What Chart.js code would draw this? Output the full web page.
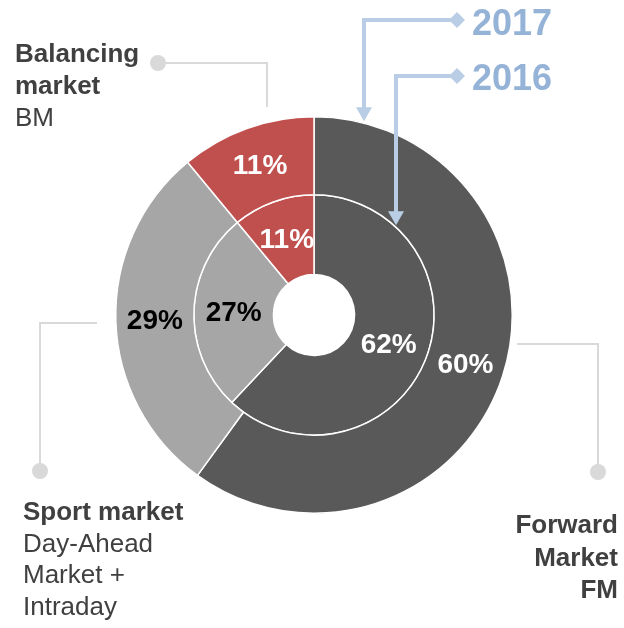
<!DOCTYPE html>
<html>
<head>
<meta charset="utf-8">
<script src="https://cdn.jsdelivr.net/npm/chart.js@4.4.1/dist/chart.umd.min.js"></script>
<style>
  body { margin: 0; background: #fff; }
  #wrap { position: relative; width: 624px; height: 628px; font-family: "Liberation Sans", Arial, sans-serif; color: #404040; }
  .note { position: absolute; font-size: 26px; line-height: 32px; white-space: nowrap; }
  .year { position: absolute; left: 472px; font-size: 36px; line-height: 36px; font-weight: bold; color: #95b3d7; }
</style>
</head>
<body>
<div id="wrap">
  <canvas id="marketChart"></canvas>
  <div class="note" style="left:15px; top:37px;"><b>Balancing<br>market</b><br>BM</div>
  <div class="note" style="left:23px; top:496px; line-height:31.5px;"><b>Sport market</b><br>Day-Ahead<br>Market +<br>Intraday</div>
  <div class="note" style="right:6px; top:508px; line-height:32.5px; text-align:right; font-weight:bold;">Forward<br>Market<br>FM</div>
  <div class="year" style="top:5px;">2017</div>
  <div class="year" style="top:60px;">2016</div>
</div>
<script>
const categories = ['Forward Market FM', 'Sport market', 'Balancing market BM'];
const share2017 = [60, 29, 11];
const share2016 = [62, 27, 11];
const sliceColors = ['#595959', '#a6a6a6', '#c0504d'];
const labelColors = ['#ffffff', '#000000', '#ffffff'];

// percentage text in the middle of every slice
const ringLabels = {
  id: 'ringLabels',
  afterDatasetsDraw(chart) {
    const ctx = chart.ctx;
    ctx.save();
    ctx.font = 'bold 28px "Liberation Sans", Arial, sans-serif';
    ctx.textAlign = 'center';
    ctx.textBaseline = 'middle';
    chart.data.datasets.forEach((ds, i) => {
      chart.getDatasetMeta(i).data.forEach((arc, j) => {
        const p = arc.getCenterPoint();
        ctx.fillStyle = labelColors[j];
        ctx.fillText(ds.data[j] + '%', p.x, p.y + 1);
      });
    });
    ctx.restore();
  }
};

// grey leader lines to the category notes, blue arrows to the year rings
const callouts = {
  id: 'callouts',
  afterDraw(chart) {
    const ctx = chart.ctx;
    const outer = chart.getDatasetMeta(0).data[0];
    const inner = chart.getDatasetMeta(1).data[0];
    const cx = outer.x, cy = outer.y;
    ctx.save();
    ctx.lineJoin = 'miter';
    ctx.strokeStyle = '#d9d9d9';
    ctx.fillStyle = '#d9d9d9';
    ctx.lineWidth = 2;
    const leaders = [
      [[158, 63], [267, 63], [267, 107]],
      [[40, 471], [40, 323], [97, 323]],
      [[598, 472], [598, 344], [517, 344]]
    ];
    leaders.forEach(pts => {
      ctx.beginPath();
      pts.forEach(([x, y], k) => k ? ctx.lineTo(x, y) : ctx.moveTo(x, y));
      ctx.stroke();
      ctx.beginPath();
      ctx.arc(pts[0][0], pts[0][1], 8, 0, Math.PI * 2);
      ctx.fill();
    });

    ctx.strokeStyle = '#b9cde5';
    ctx.fillStyle = '#b9cde5';
    ctx.lineWidth = 4;
    const arrows = [[20, 364, outer.outerRadius], [76, 396, inner.outerRadius]];
    arrows.forEach(([y, x, r]) => {
      const tipY = cy - Math.sqrt(r * r - (x - cx) * (x - cx)) - 2;
      ctx.beginPath();
      ctx.moveTo(452, y);
      ctx.lineTo(x, y);
      ctx.lineTo(x, tipY - 10);
      ctx.stroke();
      ctx.beginPath();
      ctx.moveTo(x - 8, tipY - 14);
      ctx.lineTo(x + 8, tipY - 14);
      ctx.lineTo(x, tipY);
      ctx.closePath();
      ctx.fill();
      ctx.beginPath();
      ctx.moveTo(449, y);
      ctx.lineTo(457, y - 8);
      ctx.lineTo(465, y);
      ctx.lineTo(457, y + 8);
      ctx.closePath();
      ctx.fill();
    });
    ctx.restore();
  }
};

new Chart(document.getElementById('marketChart'), {
  type: 'doughnut',
  data: {
    labels: categories,
    datasets: [
      { label: '2017', data: share2017, backgroundColor: sliceColors, borderColor: '#ffffff', borderWidth: 1.5, weight: 78 },
      { label: '2016', data: share2016, backgroundColor: sliceColors, borderColor: '#ffffff', borderWidth: 1.5, weight: 79.5 }
    ]
  },
  options: {
    responsive: true,
    maintainAspectRatio: false,
    animation: false,
    events: [],
    cutout: '20.45%',
    layout: { padding: { left: 115, right: 111, top: 116, bottom: 114 } },
    plugins: {
      legend: { display: false },
      tooltip: { enabled: false }
    }
  },
  plugins: [ringLabels, callouts]
});
</script>
</body>
</html>
